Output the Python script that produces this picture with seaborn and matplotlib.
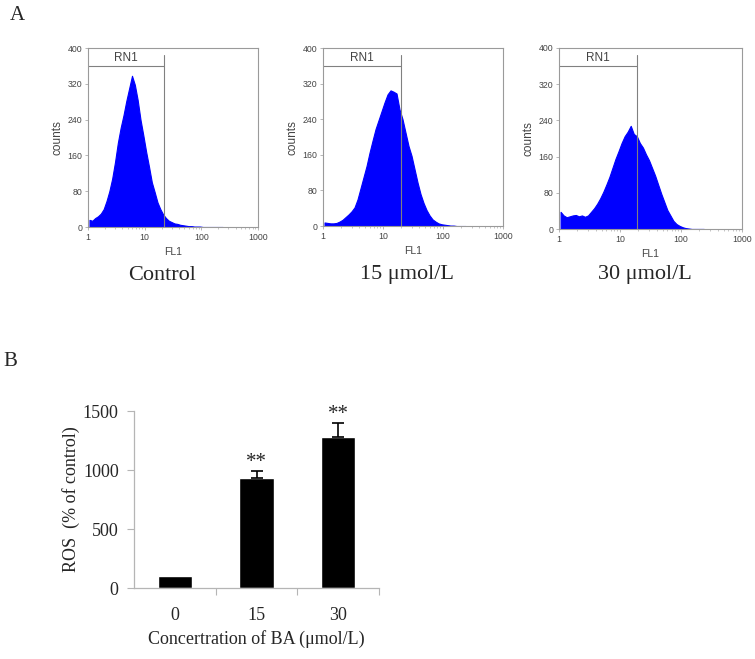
import numpy as np
import matplotlib
matplotlib.use("Agg")
import matplotlib.pyplot as plt
import seaborn as sns

# ---- Data ----
# panel A: flow cytometry histograms, bins of 0.05 decade starting at FL1 = 1
fl1_bin_log = np.arange(48) * 0.05
counts_control = [16, 14, 20, 24, 30, 40, 58, 80, 108, 145, 188, 222, 250, 282, 310, 338,
                  318, 284, 240, 205, 168, 135, 100, 78, 55, 40, 28, 20, 14, 11, 8, 7,
                  5, 4, 3, 2, 2, 1, 1, 1, 0, 0, 0, 0, 0, 0, 0, 0]
counts_15 = [8, 7, 6, 6, 7, 10, 14, 20, 26, 33, 42, 60, 85, 110, 135, 165,
             192, 218, 238, 258, 278, 296, 305, 302, 298, 262, 240, 210, 180, 158, 128, 98,
             72, 52, 36, 24, 15, 10, 6, 4, 3, 2, 1, 1, 0, 0, 0, 0]
counts_30 = [38, 30, 26, 28, 30, 31, 28, 30, 27, 30, 38, 46, 56, 68, 82, 98,
             115, 135, 155, 172, 190, 205, 215, 228, 210, 205, 190, 180, 165, 152, 135, 118,
             98, 78, 60, 42, 30, 18, 11, 7, 4, 2, 1, 0, 0, 0, 0, 0]
panel_titles = ["Control", "15 \u03bcmol/L", "30 \u03bcmol/L"]
gate_ends = [22, 20, 19]

# panel B: ROS bar chart
concentrations = ["0", "15", "30"]
ros_mean = [100, 935, 1277]
ros_err = [0, 55, 124]
stars = ["", "**", "**"]

# ---- Style ----
sns.set_style("ticks")
plt.rcParams["font.family"] = ["Liberation Serif", "DejaVu Serif"]
sans = ["Liberation Sans", "DejaVu Sans"]
blue = "#0000ff"
frame = "#9a9a9a"

fig = plt.figure(figsize=(7.55, 6.59), dpi=100)

# ---- Panel A ----
hist_boxes = [[0.1166, 0.6555, 0.2252, 0.2716],
              [0.4278, 0.6570, 0.2384, 0.2700],
              [0.7404, 0.6525, 0.2424, 0.2747]]
title_x = [162 / 755, 407 / 755, 645 / 755]
centers = 10 ** (fl1_bin_log + 0.025)

for box, counts, title, gate, tx in zip(hist_boxes, [counts_control, counts_15, counts_30],
                                       panel_titles, gate_ends, title_x):
    ax = fig.add_axes(box)
    sns.histplot(x=centers, weights=counts, binwidth=0.05, binrange=(0, 2.4),
                 log_scale=True, element="poly", fill=True, color=blue, alpha=1,
                 linewidth=0.8, ax=ax)
    ax.set_xlim(1, 1000)
    ax.set_ylim(0, 400)
    ax.set_yticks([0, 80, 160, 240, 320, 400])
    ax.set_xticks([1, 10, 100, 1000])
    ax.set_xticklabels(["1", "10", "100", "1000"])
    for lab in ax.get_xticklabels() + ax.get_yticklabels():
        lab.set_family(sans)
        lab.set_fontsize(6.3)
        lab.set_color("#444444")
    ax.tick_params(which="major", length=2, width=0.5, color=frame, pad=2)
    ax.tick_params(which="minor", length=1.2, width=0.4, color=frame)
    for sp in ax.spines.values():
        sp.set_color(frame)
        sp.set_linewidth(0.8)
    ax.set_ylabel("counts", family=sans, fontsize=8.5, color="#444444", labelpad=3)
    ax.set_xlabel("FL1", family=sans, fontsize=7.5, color="#444444", labelpad=4)

    # RN1 gate marker
    ax.plot([1, gate], [360, 360], color="#808080", lw=0.8)
    ax.plot([gate, gate], [0, 385], color="#808080", lw=0.8)
    ax.text(np.sqrt(gate), 364, "RN1", family=sans, fontsize=8.5, color="#444444",
            ha="center", va="bottom")

    fig.text(tx, 1 - 275 / 659, title, fontsize=16, ha="center", va="center")

fig.text(0.013, 1 - 15 / 659, "A", fontsize=15, ha="left", va="center")
fig.text(0.005, 1 - 362 / 659, "B", fontsize=15, ha="left", va="center")

# ---- Panel B ----
axb = fig.add_axes([0.1775, 0.1077, 0.3245, 0.2686])
sns.barplot(x=concentrations, y=ros_mean, color="black", width=0.42,
            saturation=1, ax=axb)
for i, (m, e, s) in enumerate(zip(ros_mean, ros_err, stars)):
    if e > 0:
        axb.errorbar(i, m, yerr=[[0], [e]], fmt="none", ecolor="black",
                     elinewidth=1.2, capsize=4, capthick=1.2)
    if s:
        axb.text(i, m + e - 10, s, ha="center", va="bottom", fontsize=15)

axb.set_xlim(-0.5, 2.5)
axb.set_ylim(0, 1500)
axb.set_yticks([0, 500, 1000, 1500])
axb.set_xticks([0.5, 1.5, 2.5], minor=True)
sns.despine(ax=axb)
for side in ["left", "bottom"]:
    axb.spines[side].set_color("#b5b5b5")
    axb.spines[side].set_linewidth(0.9)
axb.tick_params(axis="y", length=5, width=0.8, color="#b5b5b5", labelsize=13, pad=6)
axb.tick_params(axis="x", which="major", length=0, labelsize=13, pad=14)
axb.tick_params(axis="x", which="minor", length=5, width=0.8, color="#b5b5b5")
axb.set_ylabel("ROS  (% of control)", fontsize=13, labelpad=2)
axb.set_xlabel("Concertration of BA (\u03bcmol/L)", fontsize=13, labelpad=4)

fig.savefig("out.png", dpi=100)
